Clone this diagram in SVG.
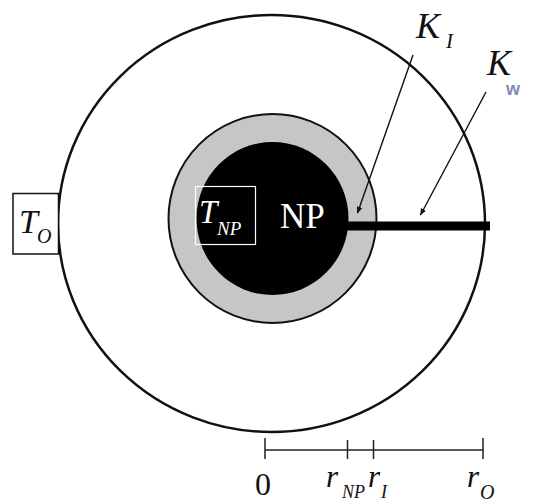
<svg xmlns="http://www.w3.org/2000/svg" width="535" height="502" viewBox="0 0 535 502">
<defs>
<style>
.it{font-family:"Liberation Serif","Times New Roman",serif;font-style:italic;fill:#111}
.up{font-family:"Liberation Serif","Times New Roman",serif;fill:#111}
.wht{fill:#fff}
.lead{stroke:#111;stroke-width:1.4;fill:none;marker-end:url(#ah)}
.scale{stroke:#222;stroke-width:1.5;fill:none}
</style>
<marker id="ah" viewBox="0 0 10 10" refX="9" refY="5" markerWidth="7" markerHeight="7" orient="auto" markerUnits="userSpaceOnUse">
<path d="M0,1 L10,5 L0,9 Z" fill="#111"/>
</marker>
</defs>
<rect width="535" height="502" fill="#fff"/>

<g id="outer-domain">
<ellipse cx="271.5" cy="223.5" rx="213.5" ry="208.5" fill="none" stroke="#111" stroke-width="2.5"/>
</g>

<g id="interface-shell">
<ellipse cx="272.5" cy="218.5" rx="104" ry="104.5" fill="#c6c6c6" stroke="#111" stroke-width="2"/>
</g>

<g id="nanoparticle">
<ellipse cx="272.5" cy="218.5" rx="76" ry="76.5" fill="#000"/>
<text class="up wht" x="280" y="228" font-size="35">NP</text>
</g>

<g id="wire">
<rect x="347" y="221.5" width="143" height="9" fill="#000"/>
</g>

<g id="T-NP">
<rect x="195.5" y="186.5" width="60" height="58" fill="none" stroke="#fff" stroke-width="1.2"/>
<text class="it wht" x="199" y="223" font-size="33">T</text>
<text class="it wht" x="217" y="235" font-size="19">NP</text>
</g>

<g id="T-O">
<rect x="13" y="193.5" width="45.5" height="60.5" fill="#fff" stroke="#111" stroke-width="1.5"/>
<text class="it" x="19" y="233" font-size="34">T</text>
<text class="it" x="37" y="243" font-size="20">O</text>
</g>

<g id="K-I">
<text class="it" x="416" y="38" font-size="36">K</text>
<text class="it" x="446" y="48" font-size="21">I</text>
</g>

<g id="K-w">
<text class="it" x="487" y="75" font-size="36">K</text>
<text x="506" y="95" font-size="18" font-weight="bold" fill="#7d8db5" font-family="Liberation Sans, Arial, sans-serif">w</text>
</g>

<g id="connectors">
<line class="lead" x1="413" y1="55" x2="357.5" y2="213"/>
<line class="lead" x1="486" y1="92" x2="420.5" y2="215"/>
</g>

<g id="radius-scale">
<line class="scale" x1="265" y1="450" x2="483" y2="450"/>
<line class="scale" x1="265" y1="438" x2="265" y2="459"/>
<line class="scale" x1="347.5" y1="440" x2="347.5" y2="459"/>
<line class="scale" x1="373.5" y1="440" x2="373.5" y2="459"/>
<line class="scale" x1="483" y1="438" x2="483" y2="459"/>
<text class="up" x="263" y="495" font-size="32" text-anchor="middle">0</text>
<text class="it" x="326" y="487" font-size="31">r</text>
<text class="it" x="342" y="498" font-size="18">NP</text>
<text class="it" x="368" y="487" font-size="31">r</text>
<text class="it" x="381" y="498" font-size="18">I</text>
<text class="it" x="467" y="487" font-size="31">r</text>
<text class="it" x="480" y="499" font-size="20">O</text>
</g>
</svg>
